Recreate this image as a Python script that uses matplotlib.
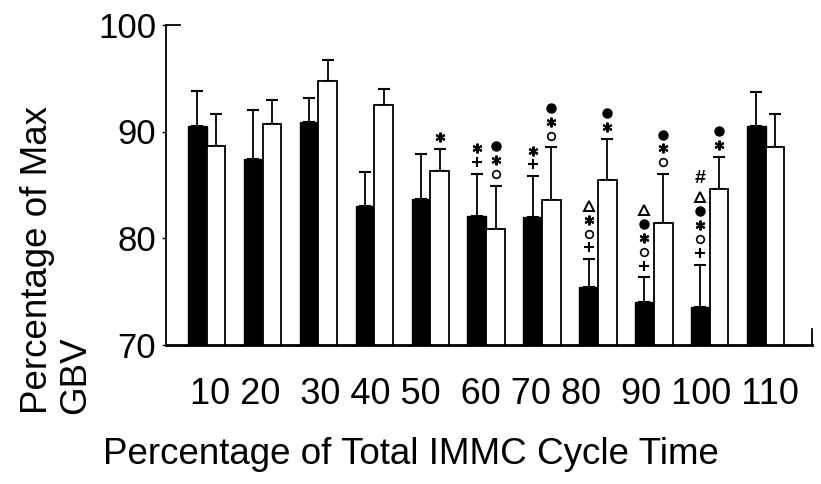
import numpy as np
import matplotlib
matplotlib.use("Agg")
import matplotlib.pyplot as plt
from matplotlib.transforms import offset_copy

# Percentage of total IMMC cycle time (x tick labels)
cycle_pct = ["10", "20", "30", "40", "50", "60", "70", "80", "90", "100", "110"]

# Percentage of maximal GBV: solid bars and open bars (mean, upper SE)
solid_mean = [90.5, 87.4, 90.9, 83.0, 83.7, 82.1, 82.0, 75.4, 74.0, 73.5, 90.5]
solid_err = [3.3, 4.6, 2.2, 3.2, 4.2, 3.9, 3.8, 2.6, 2.3, 4.0, 3.2]
open_mean = [88.6, 90.7, 94.7, 92.5, 86.3, 80.8, 83.6, 85.4, 81.4, 84.6, 88.5]
open_err = [3.0, 2.3, 2.0, 1.5, 2.1, 4.1, 4.9, 3.9, 4.6, 3.0, 3.1]

# Significance symbols stacked above each error bar (listed bottom to top)
solid_marks = [[], [], [], [], [], ["+", "*"], ["+", "*"],
               ["+", "o", "*", "^"], ["+", "o", "*", "•", "^"],
               ["+", "o", "*", "•", "^", "#"], []]
open_marks = [[], [], [], [], ["*"], ["o", "*", "•"], ["o", "*", "•"],
              ["*", "•"], ["o", "*", "•"], ["*", "•"], []]

FONT = ["Liberation Sans", "Arial", "DejaVu Sans"]
plt.rcParams["font.family"] = FONT

W, H = 821, 484
fig = plt.figure(figsize=(W / 100, H / 100), dpi=100)
ax = fig.add_axes([166 / W, 1 - 344.5 / H, (812 - 166) / W, (344.5 - 25) / H])

x = np.arange(len(cycle_pct))
bw = 0.335
xs = x - bw / 2
xo = x + bw / 2

ax.bar(xs, solid_mean, width=bw, color="black", edgecolor="black", linewidth=1.0, zorder=2)
ax.bar(xo, open_mean, width=bw, color="white", edgecolor="black", linewidth=1.3, zorder=2)

ekw = dict(fmt="none", ecolor="black", elinewidth=1.3, capsize=4.3, capthick=1.5, zorder=1)
ax.errorbar(xs, solid_mean, yerr=[np.zeros(len(x)), solid_err], **ekw)
ax.errorbar(xo, open_mean, yerr=[np.zeros(len(x)), open_err], **ekw)

ax.set_xlim(-0.728, 10.83)
ax.set_ylim(70, 100)

# significance symbols
def draw_marks(xpos, tops, marks):
    for xi, top, stack in zip(xpos, tops, marks):
        for k, m in enumerate(stack):
            dy = 8.5 + 10.0 * k + (3.5 if m == "#" else 0.0)
            tr = offset_copy(ax.transData, fig=fig, x=0, y=dy, units="points")
            style = dict(transform=tr, clip_on=False, zorder=3, linestyle="none")
            if m == "+":
                ax.plot(xi, top, marker="+", ms=6.5, mew=1.5, color="black", **style)
            elif m == "o":
                ax.plot(xi, top, marker="o", ms=5.5, mew=1.2, mfc="white", mec="black", **style)
            elif m == "•":
                ax.plot(xi, top, marker="o", ms=6.5, mew=1.0, mfc="black", mec="black", **style)
            elif m == "*":
                ax.plot(xi, top, marker=(6, 2, 0), ms=7, mew=1.5, color="black", **style)
            elif m == "^":
                ax.plot(xi, top, marker="^", ms=7.2, mew=1.4, mfc="white", mec="black", **style)
            elif m == "#":
                ax.text(xi, top, "#", transform=tr, ha="center", va="center",
                        fontsize=14, fontweight="bold", family=FONT, zorder=3)

draw_marks(xs, np.add(solid_mean, solid_err), solid_marks)
draw_marks(xo, np.add(open_mean, open_err), open_marks)

# axes styling
for s in ("top", "right"):
    ax.spines[s].set_visible(False)
ax.spines["left"].set_linewidth(1.3)
ax.spines["bottom"].set_linewidth(2.0)
ax.axhline(100, xmin=0, xmax=0.022, color="black", lw=1.3, clip_on=False)
ax.axvline(10.83, ymin=0, ymax=0.05, color="black", lw=1.3, clip_on=False)

ax.set_yticks([70, 80, 90, 100])
ax.set_yticklabels(["70", "80", "90", "100"], fontsize=25)
ax.tick_params(axis="y", direction="out", length=3, width=1.0, pad=4)
ax.set_xticks(x)
ax.set_xticklabels([])
ax.tick_params(axis="x", length=0)

# category labels set as one typed row beneath the axis
gaps = [1, 2, 1, 1, 2, 1, 1, 2, 1, 1]
row = cycle_pct[0]
for g, lab in zip(gaps, cycle_pct[1:]):
    row += " " * g + lab
fig.text(494 / W, 1 - 395 / H, row, ha="center", va="center", fontsize=26)

fig.text(410.5 / W, 1 - 454 / H, "Percentage of Total IMMC Cycle Time",
         ha="center", va="center", fontsize=26.5)
fig.text(20 / W, 1 - 414 / H, "Percentage of Max\nGBV", rotation=90,
         ha="left", va="bottom", multialignment="left", linespacing=1.1, fontsize=26.5)

fig.savefig("out.png", dpi=100)
